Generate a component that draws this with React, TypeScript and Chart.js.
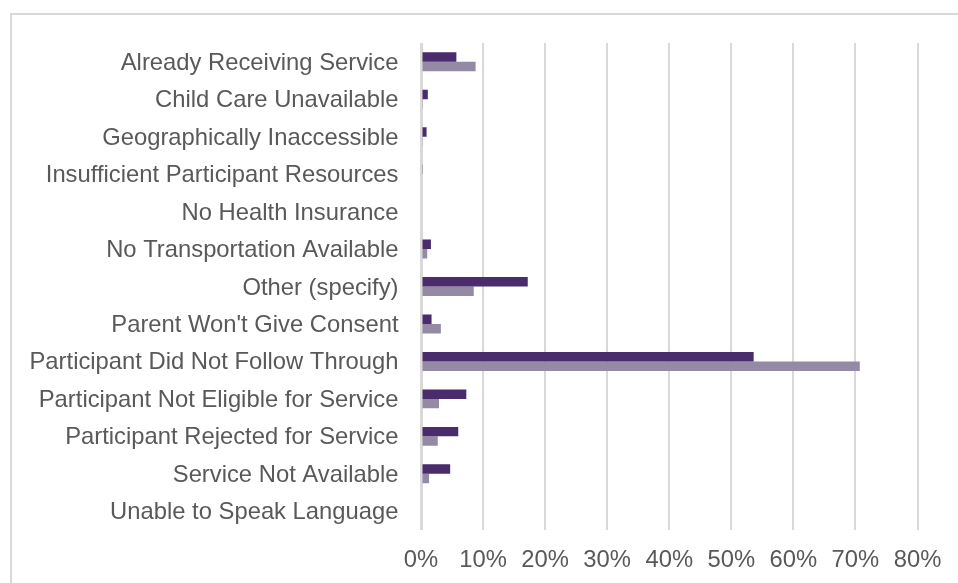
import React, { useEffect, useRef } from "react";
import { Chart, registerables } from "chart.js";

Chart.register(...registerables);

const categories = [
  "Already Receiving Service",
  "Child Care Unavailable",
  "Geographically Inaccessible",
  "Insufficient Participant Resources",
  "No Health Insurance",
  "No Transportation Available",
  "Other (specify)",
  "Parent Won't Give Consent",
  "Participant Did Not Follow Through",
  "Participant Not Eligible for Service",
  "Participant Rejected for Service",
  "Service Not Available",
  "Unable to Speak Language",
];

const series1 = [5.7, 1.1, 0.9, 0.2, 0, 1.6, 17.2, 1.7, 53.6, 7.3, 6.0, 4.7, 0];
const series2 = [8.8, 0.3, 0.2, 0, 0, 1.0, 8.5, 3.2, 70.7, 2.9, 2.7, 1.3, 0];

const xTicks = [0, 10, 20, 30, 40, 50, 60, 70, 80];

const FONT = "'Liberation Sans', Arial, sans-serif";

export default function App() {
  const ref = useRef<HTMLCanvasElement | null>(null);

  useEffect(() => {
    if (!ref.current) return;
    const chart = new Chart(ref.current, {
      type: "bar",
      data: {
        labels: categories,
        datasets: [
          {
            label: "Series 1",
            data: series1,
            backgroundColor: "#4a2b6b",
            borderWidth: 0,
            barPercentage: 1,
            categoryPercentage: 0.505,
          },
          {
            label: "Series 2",
            data: series2,
            backgroundColor: "#958aa6",
            borderWidth: 0,
            barPercentage: 1,
            categoryPercentage: 0.505,
          },
        ],
      },
      options: {
        indexAxis: "y",
        animation: false,
        responsive: false,
        maintainAspectRatio: false,
        layout: { padding: { top: 43, right: 40.5, bottom: 0, left: 0 } },
        plugins: {
          legend: { display: false },
          tooltip: { enabled: false },
        },
        scales: {
          x: {
            min: 0,
            max: 80,
            afterBuildTicks: (scale: any) => {
              scale.ticks = xTicks.map((v) => ({ value: v }));
            },
            afterFit: (scale: any) => {
              scale.height = 53;
            },
            ticks: {
              callback: (v: any) => `${v}%`,
              color: "#595959",
              font: { family: FONT, size: 23.8 },
              padding: 16.5,
              maxRotation: 0,
              autoSkip: false,
            },
            grid: {
              color: "#d9d9d9",
              lineWidth: (ctx: any) => (ctx.tick && ctx.tick.value === 0 ? 3 : 2),
              drawTicks: false,
            },
            border: { display: false },
          },
          y: {
            afterFit: (scale: any) => {
              scale.width = 421;
            },
            ticks: {
              color: "#595959",
              font: { family: FONT, size: 23.8 },
              padding: 22.5,
              labelOffset: 1.5,
              autoSkip: false,
            },
            grid: { display: false, drawTicks: false },
            border: { display: false },
          },
        },
      },
    });
    return () => chart.destroy();
  }, []);

  return (
    <div
      style={{
        position: "fixed",
        left: 0,
        top: 0,
        width: 958,
        height: 583,
        overflow: "hidden",
        background: "#ffffff",
      }}
    >
      <div
        style={{
          position: "absolute",
          left: 10,
          top: 12.5,
          width: 1000,
          height: 1000,
          border: "2px solid #d9d9d9",
          boxSizing: "border-box",
        }}
      />
      <canvas
        ref={ref}
        width={958}
        height={583}
        style={{ position: "absolute", left: 0, top: 0, width: 958, height: 583 }}
      />
    </div>
  );
}
